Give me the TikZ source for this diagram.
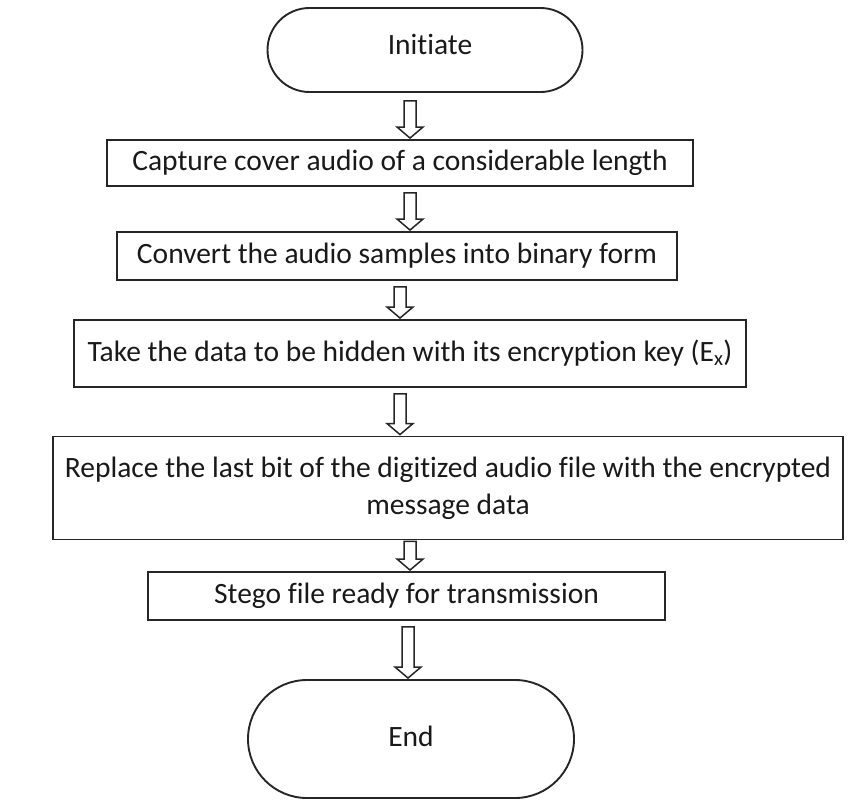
\documentclass[tikz,border=0pt]{standalone}
\usepackage{fontspec}
\setmainfont{Carlito}[Ligatures=NoCommon]
\usetikzlibrary{shapes.misc,calc}
\begin{document}
\begin{tikzpicture}[x=1pt,y=-1pt,
  every node/.style={font=\fontsize{29.5}{37}\selectfont, text=black!90},
  procbox/.style={draw=black!85, line width=1.9pt, rectangle, inner sep=0pt, align=center},
  termbox/.style={draw=black!85, line width=1.9pt, rounded rectangle, inner sep=0pt},
  hollow/.style={draw=black!85, line width=1.5pt, fill=white, line join=miter}]
\useasboundingbox (0,0) rectangle (860,809);
\newcommand\harrow[4]{%
  \draw[hollow] ($(#1.south -| #3,0)+(-6,#4)$) -- ($(#2.north -| #3,0)+(-6,-12)$)
   -- ($(#2.north -| #3,0)+(-13,-12)$) -- ($(#2.north -| #3,0)+(0,-1)$)
   -- ($(#2.north -| #3,0)+(13,-12)$) -- ($(#2.north -| #3,0)+(6,-12)$)
   -- ($(#1.south -| #3,0)+(6,#4)$) -- cycle;}
\node[termbox, minimum width=315, minimum height=84] (start) at (425,50) {};
\node (starttxt) at (430,44) {Initiate};
\node[procbox, minimum width=586, minimum height=46] (b1) at (400,163) {Capture cover audio of a considerable length};
\node[procbox, minimum width=560, minimum height=48] (b2) at (397,256) {Convert the audio samples into binary form};
\node[procbox, minimum width=672, minimum height=67] (b3) at (410,353.5) {Take the data to be hidden with its encryption key (E\textsubscript{x})};
\node[procbox, minimum width=790, minimum height=103] (b4) at (448,488) {Replace the last bit of the digitized audio file with the encrypted\\message data};
\node[procbox, minimum width=517, minimum height=48] (b5) at (406.5,596) {Stego file ready for transmission};
\node[termbox, minimum width=326, minimum height=118] (stop) at (411,739) {};
\node (stoptxt) at (411,736) {End};
\harrow{start}{b1}{410}{8}
\harrow{b1}{b2}{410}{6}
\harrow{b2}{b3}{400}{6}
\harrow{b3}{b4}{400}{6}
\harrow{b4}{b5}{410}{1}
\harrow{b5}{stop}{408}{6}
\end{tikzpicture}
\end{document}
